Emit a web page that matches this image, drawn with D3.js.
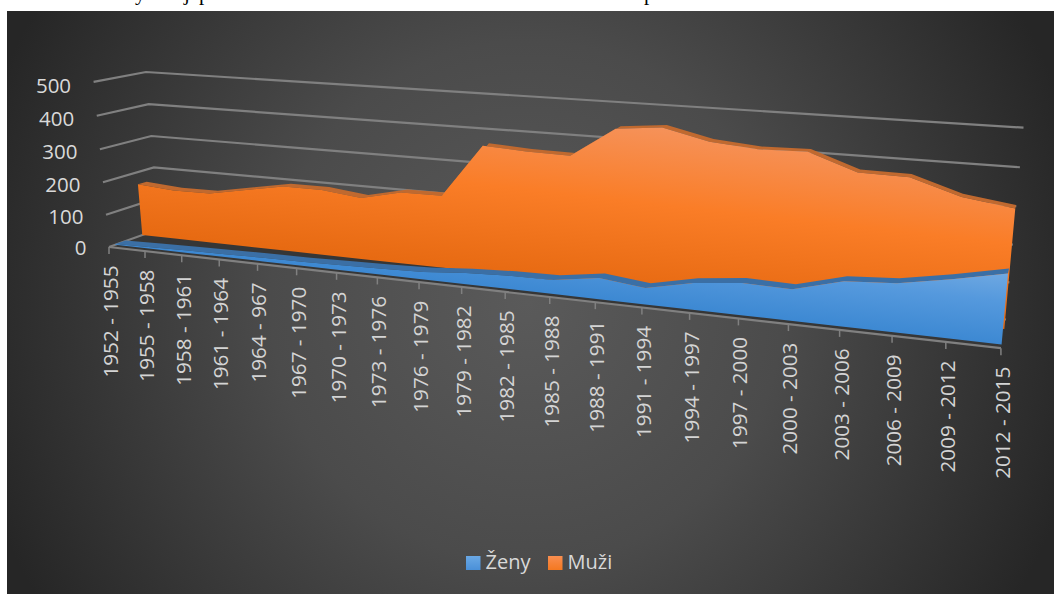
<!DOCTYPE html>
<html>
<head>
<meta charset="utf-8">
<script src="https://cdn.jsdelivr.net/npm/d3@7"></script>
<style>
html, body { margin: 0; padding: 0; background: #fff; }
svg { display: block; }
text { font-family: "Open Sans", sans-serif; }
</style>
</head>
<body>
<svg id="chart" width="1054" height="594"></svg>
<script>
// Data
var periods = ["1952 - 1955", "1955 - 1958", "1958 - 1961", "1961 - 1964", "1964 - 967", "1967 - 1970",
    "1970 - 1973", "1973 - 1976", "1976 - 1979", "1979 - 1982", "1982 - 1985", "1985 - 1988", "1988 - 1991",
    "1991 - 1994", "1994 - 1997", "1997 - 2000", "2000 - 2003", "2003 - 2006", "2006 - 2009", "2009 - 2012",
    "2012 - 2015"];
var zeny = [2, 5, 7, 9, 11, 12, 15, 18, 22, 32, 38, 40, 59, 45, 73, 87, 84, 119, 128, 152, 180];
var muzi = [162, 153, 155, 176, 198, 198, 185, 212, 213, 367, 360, 358, 441, 453, 424, 413, 416, 372, 370, 330, 312];
var valueTicks = [0, 100, 200, 300, 400, 500];
var legendNames = ["Ženy", "Muži"];

var svg = d3.select("#chart");

// Scales into the unit box of the 3-D chart
var uScale = d3.scaleLinear().domain([0, periods.length - 1]).range([0, 1]);
var wScale = d3.scaleLinear().domain([0, 500]).range([0, 1]);

// Corners of the box on screen: back wall and front edge of the floor
var backLeft = [159, 229];
var backRight = [1006, 319.5];
var topLeft = [146, 72];
var topRight = [1023.5, 127.7];
var frontLeft = [109, 247];
var frontRight = [1001, 347.5];

var proj = buildProjection();

function buildProjection() {
    var dx1 = backRight[0] - topRight[0], dy1 = backRight[1] - topRight[1];
    var dx2 = topLeft[0] - topRight[0], dy2 = topLeft[1] - topRight[1];
    var sx = backLeft[0] - backRight[0] + topRight[0] - topLeft[0];
    var sy = backLeft[1] - backRight[1] + topRight[1] - topLeft[1];
    var det = dx1 * dy2 - dx2 * dy1;
    var a = (sx * dy2 - dx2 * sy) / det;
    var b = (dx1 * sy - sx * dy1) / det;
    var U = [backRight[0] * (1 + a) - backLeft[0], backRight[1] * (1 + a) - backLeft[1]];
    var W = [topLeft[0] * (1 + b) - backLeft[0], topLeft[1] * (1 + b) - backLeft[1]];
    // depth term, least squares along the front edge
    var ex = frontLeft[0] - frontRight[0], ey = frontLeft[1] - frontRight[1];
    var rx = frontRight[0] * (1 + a) - U[0] - frontLeft[0];
    var ry = frontRight[1] * (1 + a) - U[1] - frontLeft[1];
    var c = (rx * ex + ry * ey) / (ex * ex + ey * ey);
    var Z = [frontLeft[0] * (1 + c) - backLeft[0], frontLeft[1] * (1 + c) - backLeft[1]];
    return function(u, w, d) {
        var q = 1 + a * u + b * w + c * d;
        return [(backLeft[0] + U[0] * u + W[0] * w + Z[0] * d) / q,
                (backLeft[1] + U[1] * u + W[1] * w + Z[1] * d) / q];
    };
}

function pt(i, v, d) {
    return proj(uScale(i), wScale(v), d);
}

var line = d3.line();
var defs = svg.append("defs");

// Background
var bg = defs.append("radialGradient").attr("id", "bgGrad")
    .attr("gradientUnits", "userSpaceOnUse")
    .attr("cx", 0).attr("cy", 0).attr("r", 1)
    .attr("gradientTransform", "translate(527,302) scale(570,580)");
bg.append("stop").attr("offset", 0).attr("stop-color", "#5a5a5a");
bg.append("stop").attr("offset", 0.45).attr("stop-color", "#4b4b4b");
bg.append("stop").attr("offset", 1).attr("stop-color", "#262626");

function gradient(id, box, stops) {
    var g = defs.append("linearGradient").attr("id", id)
        .attr("gradientUnits", "userSpaceOnUse")
        .attr("x1", box[0]).attr("y1", box[1]).attr("x2", box[2]).attr("y2", box[3]);
    stops.forEach(function(s) {
        g.append("stop").attr("offset", s[0]).attr("stop-color", s[1]);
    });
}
gradient("orangeFace", [519, 103, 500, 273], [[0, "#f5945f"], [0.5, "#fa7d27"], [1, "#e76a12"]]);
gradient("blueFace", [1009, 272, 1000.6, 346], [[0, "#70a9e2"], [0.4, "#5599dd"], [1, "#3c88d2"]]);
gradient("orangeKey", [0, 556, 0, 570], [[0, "#f98e50"], [1, "#f47820"]]);
gradient("blueKey", [0, 556, 0, 570], [[0, "#6aa8e4"], [1, "#4a90d8"]]);

// Page behind the chart, with the clipped line of text above it
svg.append("rect").attr("width", 1054).attr("height", 594).attr("fill", "#fff");
var strayLetters = ["y", "j", "p", "p"];
var strayX = [135, 184, 199, 644];
svg.selectAll(".stray").data(strayLetters).enter().append("text")
    .attr("class", "stray")
    .attr("x", function(d, i) { return strayX[i]; })
    .attr("y", 0)
    .style("font-family", "'Liberation Serif', serif")
    .style("font-size", "21px")
    .attr("fill", "#000")
    .text(function(d) { return d; });

svg.append("rect").attr("x", 7).attr("y", 11).attr("width", 1047).attr("height", 583).attr("fill", "url(#bgGrad)");

// Floor
var lastIndex = periods.length - 1;
svg.append("path")
    .attr("d", line([pt(0, 0, 1), pt(lastIndex, 0, 1), pt(lastIndex, 0, 0), pt(0, 0, 0)]) + "Z")
    .attr("fill", "#363636");

// Gridlines on the back wall and the left wall
svg.selectAll(".grid").data(valueTicks).enter().append("path")
    .attr("class", "grid")
    .attr("d", function(v) { return line([pt(0, v, 1), pt(0, v, 0), pt(lastIndex, v, 0)]); })
    .attr("fill", "none").attr("stroke", "#808080").attr("stroke-width", 2.2);

// One series: top band running back, then the front face
function drawSeries(values, dFront, dBack, bandColor, faceFill) {
    var front = values.map(function(v, i) { return pt(i, v, dFront); });
    var back = values.map(function(v, i) { return pt(i, v, dBack); });
    var base = values.map(function(v, i) { return pt(i, 0, dFront); });
    svg.append("path")
        .attr("d", line(front.concat(back.slice().reverse())) + "Z")
        .attr("fill", bandColor);
    svg.append("path")
        .attr("d", line(front.concat(base.slice().reverse())) + "Z")
        .attr("fill", faceFill);
}
drawSeries(muzi, 0.346, 0.17, "#c0692f", "url(#orangeFace)");
drawSeries(zeny, 0.88, 0.68, "#3b6fa5", "url(#blueFace)");

// Front axis with ticks
svg.append("path")
    .attr("d", line([pt(0, 0, 1), pt(lastIndex, 0, 1)]))
    .attr("fill", "none").attr("stroke", "#808080").attr("stroke-width", 2.2);
svg.selectAll(".tick").data(periods).enter().append("line")
    .attr("class", "tick")
    .attr("x1", function(d, i) { return pt(i, 0, 1)[0]; })
    .attr("x2", function(d, i) { return pt(i, 0, 1)[0]; })
    .attr("y1", function(d, i) { return pt(i, 0, 1)[1]; })
    .attr("y2", function(d, i) { return pt(i, 0, 1)[1] + 7; })
    .attr("stroke", "#808080").attr("stroke-width", 1.5);

// Category labels
svg.selectAll(".catLabel").data(periods).enter().append("text")
    .attr("class", "catLabel")
    .attr("transform", function(d, i) {
        var p = pt(i, 0, 1);
        return "translate(" + (p[0] + 1.5) + "," + (p[1] + 18.5) + ") rotate(-90)";
    })
    .attr("dy", "0.36em")
    .attr("text-anchor", "end")
    .style("font-size", "20.7px")
    .attr("fill", "#d4d4d4")
    .text(function(d) { return d; });

// Value labels, nudged down a little towards the top of the wall
svg.selectAll(".valLabel").data(valueTicks).enter().append("text")
    .attr("class", "valLabel")
    .attr("x", function(v) { return pt(0, v, 1)[0] - 22.5; })
    .attr("y", function(v) { return pt(0, v, 1)[1] + 1 + wScale(v) * 2.5; })
    .attr("dy", "0.36em")
    .attr("text-anchor", "end")
    .style("font-size", "20.5px")
    .attr("fill", "#d9d9d9")
    .text(function(v) { return v; });

// Legend
var keyX = [466, 548];
var keyFill = ["url(#blueKey)", "url(#orangeKey)"];
var legend = svg.selectAll(".key").data(legendNames).enter().append("g").attr("class", "key");
legend.append("rect")
    .attr("x", function(d, i) { return keyX[i]; })
    .attr("y", 556).attr("width", 14.5).attr("height", 14)
    .attr("fill", function(d, i) { return keyFill[i]; });
legend.append("text")
    .attr("x", function(d, i) { return keyX[i] + 19.5; })
    .attr("y", 569)
    .style("font-size", "20px")
    .attr("fill", "#d9d9d9")
    .text(function(d) { return d; });
</script>
</body>
</html>
